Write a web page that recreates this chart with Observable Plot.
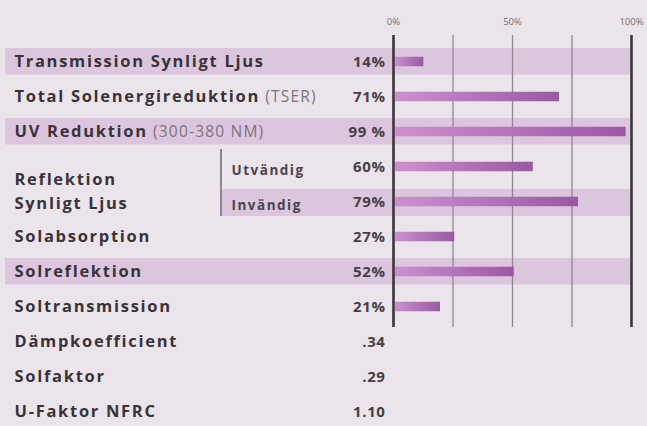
<!DOCTYPE html>
<html>
<head>
<meta charset="utf-8">
<script src="https://cdn.jsdelivr.net/npm/d3@7"></script>
<script src="https://cdn.jsdelivr.net/npm/@observablehq/plot@0.6"></script>
<style>
  html, body { margin: 0; padding: 0; background: #ebe4eb; }
  #chart svg { display: block; }
</style>
</head>
<body>
<div id="chart"></div>
<script>
// ---- data ----
const rowKeys = ["Transmission Synligt Ljus", "Total Solenergireduktion", "UV Reduktion", "Utvändig", "Invändig",
  "Solabsorption", "Solreflektion", "Soltransmission", "Dämpkoefficient", "Solfaktor", "U-Faktor NFRC"];
const mainLabels = ["Transmission Synligt Ljus", "Total Solenergireduktion", "UV Reduktion", "", "",
  "Solabsorption", "Solreflektion", "Soltransmission", "Dämpkoefficient", "Solfaktor", "U-Faktor NFRC"];
const labelSuffixes = ["", "(TSER)", "(300-380 NM)", "", "", "", "", "", "", "", ""];
const valueLabels = ["14%", "71%", "99 %", "60%", "79%", "27%", "52%", "21%", ".34", ".29", "1.10"];
const barRows = ["Transmission Synligt Ljus", "Total Solenergireduktion", "UV Reduktion", "Utvändig", "Invändig",
  "Solabsorption", "Solreflektion", "Soltransmission"];
const barValues = [14, 71, 99, 60, 79, 27, 52, 21];
const highlightedRows = ["Transmission Synligt Ljus", "UV Reduktion", "Solreflektion"];
const subLabels = ["Utvändig", "Invändig"];
const groupLabel = "Reflektion\nSynligt Ljus";
const gridTicks = [0, 25, 50, 75, 100];
const tickLabels = [0, 50, 100];

const bars = barRows.map((r, i) => ({row: r, value: barValues[i]}));
const labelRows = rowKeys.map((r, i) => ({row: r, label: mainLabels[i]})).filter(d => d.label);
const valueRows = rowKeys.map((r, i) => ({row: r, text: valueLabels[i]}));

const bandFill = "#dcc6dd";
const ink = "#383338";

const chart = Plot.plot({
  width: 647,
  height: 426,
  marginLeft: 5,
  marginRight: 17,
  marginTop: 35,
  marginBottom: 99,
  style: {background: "#ebe4eb", fontFamily: "'Open Sans', sans-serif", overflow: "visible"},
  x: {domain: [0, 100], range: [393, 631], label: null},
  y: {domain: rowKeys, range: [41.25, 431.75], padding: 0, axis: null},
  marks: [
    Plot.cell(highlightedRows, {y: d => d, fill: bandFill, insetTop: 4, insetBottom: 4.5}),
    Plot.cell(["Invändig"], {y: d => d, fill: bandFill, insetTop: 5, insetBottom: 3, insetLeft: 215}),
    Plot.cell(["Utvändig"], {y: d => d, fill: "#8d858d", insetLeft: 215, insetRight: 408}),
    Plot.cell(["Invändig"], {y: d => d, fill: "#8d858d", insetLeft: 215, insetRight: 408, insetBottom: 3}),
    Plot.ruleX(gridTicks.filter(t => t > 0 && t < 100), {stroke: "#8e878e", strokeWidth: 1.3}),
    Plot.barX(bars, {x1: 0, x2: "value", y: "row", fill: "url(#barGrad)", insetTop: 12.75, insetBottom: 12.75, insetLeft: 2, insetRight: 3}),
    Plot.ruleX([0, 100], {stroke: "#3a353a", strokeWidth: 2.6}),
    Plot.axisX({anchor: "top", ticks: tickLabels, tickSize: 0, tickPadding: 11, label: null,
      tickFormat: d => d + "%", fontSize: 9.5, fill: "#756f75"}),
    Plot.text(labelRows, {y: "row", text: "label", frameAnchor: "left", dx: 9, textAnchor: "start",
      fontSize: 16.5, fontWeight: "bold", fill: ink}),
    Plot.text([groupLabel], {y: () => "Utvändig", text: d => d, frameAnchor: "left", dx: 9, dy: 22.5,
      textAnchor: "start", lineHeight: 1.45, fontSize: 16.5, fontWeight: "bold", fill: ink}),
    Plot.text(subLabels, {y: d => d, text: d => d, frameAnchor: "left", dx: 226, dy: 3.5, textAnchor: "start",
      fontSize: 13.5, fontWeight: "bold", fill: "#4a444a"}),
    Plot.text(valueRows, {y: "row", x: () => 0, text: "text", dx: -8, textAnchor: "end",
      fontSize: 15, fontWeight: "bold", fill: "#454045"})
  ]
});

// gradient for bars
const svg = d3.select(chart);
const defs = svg.insert("defs", ":first-child");
const g = defs.append("linearGradient").attr("id", "barGrad");
g.append("stop").attr("offset", "0").attr("stop-color", "#cc90cf");
g.append("stop").attr("offset", "1").attr("stop-color", "#9a58a3");

// letter spacing (the brochure typeface is widely spaced)
svg.selectAll("text").each(function () {
  const t = this.textContent;
  const sel = d3.select(this);
  if (mainLabels.includes(t) || t === groupLabel.replace("\n", "")) sel.attr("letter-spacing", "1.7px");
  else if (subLabels.includes(t)) sel.attr("letter-spacing", "1.5px");
  else if (valueLabels.includes(t)) sel.attr("letter-spacing", "0.6px");
});

// lighter, regular-weight suffixes on some labels
svg.selectAll("text").each(function () {
  const i = mainLabels.indexOf(this.textContent);
  if (i >= 0 && labelSuffixes[i]) {
    d3.select(this).append("tspan").attr("font-weight", "normal").attr("fill", "#7a737a")
      .attr("font-size", 15.5).attr("letter-spacing", "1.2px").text(" " + labelSuffixes[i]);
  }
});

document.getElementById("chart").appendChild(chart);
</script>
</body>
</html>
